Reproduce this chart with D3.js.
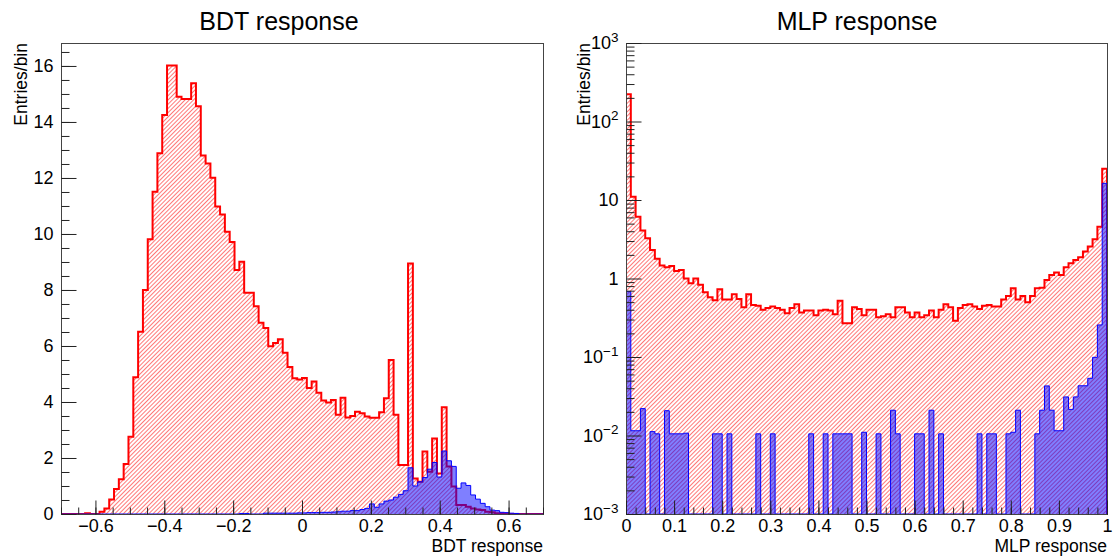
<!DOCTYPE html>
<html>
<head>
<meta charset="utf-8">
<script src="https://cdn.jsdelivr.net/npm/d3@7"></script>
<style>
  html, body { margin: 0; padding: 0; background: #fff; }
  svg { display: block; font-family: "Liberation Sans", Arial, Helvetica, sans-serif; }
</style>
</head>
<body>
<svg id="chart" width="1114" height="556"></svg>
<script>
// ---- BDT response: 100 bins on [-0.7, 0.7] ----
const bdtRange = [-0.7, 0.7];
const bdtBackground = [
  0, 0, 0, 0, 0, 0.03, 0, 0, 0.08, 0.2,
  0.52, 0.89, 1.24, 1.79, 2.76, 4.88, 6.51, 8.0, 9.81, 11.51,
  12.88, 14.25, 16.02, 16.02, 14.9, 14.82, 14.82, 15.38, 14.56, 12.8,
  12.52, 12.01, 10.98, 10.7, 10.08, 9.71, 8.71, 9.01, 7.9, 7.9,
  7.42, 6.83, 6.64, 5.99, 6.11, 6.24, 5.76, 5.25, 4.85, 4.8,
  4.86, 4.5, 4.73, 4.33, 4.05, 3.98, 4.07, 3.54, 4.15, 3.45,
  3.5, 3.65, 3.6, 3.48, 3.44, 3.44, 3.63, 4.13, 5.5, 3.54,
  1.75, 1.75, 8.95, 1.27, 1.15, 2.23, 1.51, 2.7, 1.45, 3.81,
  1.7, 0.98, 0.32, 0.32, 0.26, 0.2, 0.16, 0.14, 0.08, 0.06,
  0.03, 0.02, 0, 0, 0, 0, 0, 0, 0, 0
];
const bdtSignal = [
  0, 0, 0, 0, 0, 0, 0, 0, 0, 0,
  0, 0, 0, 0, 0, 0, 0, 0, 0, 0,
  0, 0, 0, 0, 0, 0, 0, 0, 0, 0,
  0, 0, 0, 0, 0, 0, 0, 0.02, 0.02, 0,
  0, 0, 0.03, 0.03, 0.03, 0.03, 0.03, 0.03, 0.03, 0.04,
  0.04, 0.05, 0.05, 0.05, 0.06, 0.06, 0.07, 0.08, 0.1, 0.1,
  0.12, 0.12, 0.16, 0.2, 0.36, 0.24, 0.36, 0.46, 0.5, 0.6,
  0.7, 0.83, 1.65, 1.0, 1.15, 1.3, 1.6, 1.84, 1.32, 2.25,
  1.9, 1.7, 0.92, 1.11, 1.02, 0.68, 0.53, 0.38, 0.26, 0.14,
  0.12, 0.06, 0.05, 0.03, 0.02, 0, 0, 0, 0, 0
];
const bdtYMax = 16.82;
const bdtYTicks = [0, 2, 4, 6, 8, 10, 12, 14, 16];
const bdtXTicks = [-0.6, -0.4, -0.2, 0, 0.2, 0.4, 0.6];

// ---- MLP response: 100 bins on [0, 1], log scale ----
const mlpRange = [0, 1];
const mlpBackground = [
  222, 11.0, 6.1, 4.1, 3.25, 2.31, 1.78, 1.46, 1.39, 1.44,
  1.25, 1.28, 1.0, 0.87, 1.0, 0.83, 0.67, 0.575, 0.53, 0.73,
  0.54, 0.54, 0.63, 0.55, 0.43, 0.63, 0.46, 0.45, 0.40, 0.42,
  0.44, 0.42, 0.40, 0.36, 0.42, 0.47, 0.37, 0.39, 0.39, 0.34,
  0.39, 0.40, 0.39, 0.35, 0.52, 0.27, 0.27, 0.43, 0.41, 0.34,
  0.40, 0.40, 0.32, 0.33, 0.35, 0.32, 0.43, 0.43, 0.37, 0.32,
  0.37, 0.32, 0.34, 0.39, 0.32, 0.40, 0.47, 0.43, 0.29, 0.42,
  0.46, 0.47, 0.44, 0.41, 0.45, 0.46, 0.44, 0.44, 0.54, 0.6,
  0.75, 0.54, 0.6, 0.5, 0.6, 0.75, 0.76, 0.96, 1.11, 1.19,
  1.11, 1.39, 1.56, 1.72, 1.86, 2.2, 2.55, 3.16, 4.57, 25.0
];
const mlpSignal = [
  0.68, 0.0115, 0.0115, 0.022, 0, 0.0112, 0.0105, 0, 0.0207, 0.0105,
  0.0105, 0.0105, 0.0107, 0, 0, 0, 0, 0, 0.0105, 0.0105,
  0, 0.0105, 0, 0, 0, 0, 0, 0.0105, 0, 0,
  0.0105, 0, 0, 0, 0, 0, 0, 0, 0.0105, 0,
  0, 0.0105, 0, 0.0105, 0.0105, 0.0105, 0.0105, 0, 0, 0.011,
  0, 0, 0.0105, 0, 0, 0.021, 0.0105, 0, 0, 0,
  0.0105, 0.0105, 0, 0.021, 0, 0.0105, 0, 0, 0, 0,
  0, 0, 0, 0.0105, 0, 0.0105, 0.0105, 0, 0, 0.0105,
  0.011, 0.021, 0, 0, 0, 0.0105, 0.021, 0.0428, 0.021, 0.0115,
  0.0115, 0.031, 0.0215, 0.031, 0.043, 0.043, 0.0535, 0.099, 0.256, 16.3
];
const mlpYRange = [1e-3, 1e3];
const mlpYTicks = [1e-3, 1e-2, 1e-1, 1, 10, 100, 1000];
const mlpXTicks = [0, 0.1, 0.2, 0.3, 0.4, 0.5, 0.6, 0.7, 0.8, 0.9, 1];

// ---- layout ----
const frameTop = 43, frameBottom = 514;
const labelFont = 18, titleFont = 25, axisTitleFont = 17.5;
const panels = [
  { id: "bdt", left: 61, right: 543, title: "BDT response", xTitle: "BDT response",
    range: bdtRange, bkg: bdtBackground, sig: bdtSignal, log: false,
    yDomain: [0, bdtYMax], yTicks: bdtYTicks, xTicks: bdtXTicks, xMinorStep: 0.05,
    yMinorStep: 0.5, yLabelX: 27, titleX: 279 },
  { id: "mlp", left: 626, right: 1107, title: "MLP response", xTitle: "MLP response",
    range: mlpRange, bkg: mlpBackground, sig: mlpSignal, log: true,
    yDomain: mlpYRange, yTicks: mlpYTicks, xTicks: mlpXTicks, xMinorStep: 0.02,
    yLabelX: 590, titleX: 857 }
];

const svg = d3.select("#chart");
const defs = svg.append("defs");

// red diagonal hatching for the background histograms
const hatch = defs.append("pattern")
  .attr("id", "hatch")
  .attr("patternUnits", "userSpaceOnUse")
  .attr("width", 3)
  .attr("height", 3)
  .attr("patternTransform", "rotate(45)");
hatch.append("line")
  .attr("x1", 0.5).attr("y1", 0).attr("x2", 0.5).attr("y2", 3)
  .attr("stroke", "#ff6060").attr("stroke-width", 0.85);

const fmtMinus = s => s.replace("-", "\u2212");

function stepPoints(values, x, y, lo, width, yBase) {
  const pts = [[x(lo), yBase]];
  values.forEach((v, i) => {
    const yy = y(v);
    pts.push([x(lo + i * width), yy]);
    pts.push([x(lo + (i + 1) * width), yy]);
  });
  pts.push([x(lo + values.length * width), yBase]);
  return pts;
}

panels.forEach(p => {
  const g = svg.append("g").attr("class", p.id);
  const x = d3.scaleLinear().domain(p.range).range([p.left, p.right]);
  const y = p.log
    ? d3.scaleLog().domain(p.yDomain).range([frameBottom, frameTop]).clamp(true)
    : d3.scaleLinear().domain(p.yDomain).range([frameBottom, frameTop]).clamp(true);
  const yBase = frameBottom;
  const nb = p.bkg.length;
  const bw = (p.range[1] - p.range[0]) / nb;

  defs.append("clipPath").attr("id", "clip-" + p.id)
    .append("rect")
    .attr("x", p.left).attr("y", frameTop - 1)
    .attr("width", p.right - p.left + 1).attr("height", frameBottom - frameTop + 2);

  const plot = g.append("g").attr("clip-path", `url(#clip-${p.id})`);
  const line = d3.line();

  const bkgPts = stepPoints(p.bkg, x, y, p.range[0], bw, yBase);
  const sigPts = stepPoints(p.sig, x, y, p.range[0], bw, yBase);

  plot.append("path").attr("d", line(bkgPts) + "Z")
    .attr("fill", "url(#hatch)").attr("stroke", "none");
  plot.append("path").attr("d", line(bkgPts))
    .attr("fill", "none").attr("stroke", "#ff0000").attr("stroke-width", 2)
    .attr("stroke-linejoin", "miter");
  plot.append("path").attr("d", line(sigPts) + "Z")
    .attr("fill", "#0000ff").attr("fill-opacity", 0.5).attr("stroke", "none");
  plot.append("path").attr("d", line(sigPts))
    .attr("fill", "none").attr("stroke", "#0000ff").attr("stroke-width", 1);

  // frame
  g.append("rect")
    .attr("x", p.left + 0.5).attr("y", frameTop + 0.5)
    .attr("width", p.right - p.left).attr("height", frameBottom - frameTop)
    .attr("fill", "none").attr("stroke", "#444").attr("stroke-width", 1);

  // x axis: major and minor ticks pointing into the frame
  const xMinor = d3.range(
    Math.ceil(p.range[0] / p.xMinorStep - 1e-9),
    Math.floor(p.range[1] / p.xMinorStep + 1e-9) + 1
  ).map(k => +(k * p.xMinorStep).toFixed(4));
  const xMinorAxis = d3.axisBottom(x).tickValues(xMinor).tickSize(-7).tickFormat("");
  const xMajorAxis = d3.axisBottom(x).tickValues(p.xTicks).tickSize(-14).tickPadding(5)
    .tickFormat(d => fmtMinus(d3.format("~g")(d)));
  const gxMinor = g.append("g").attr("transform", `translate(0,${frameBottom + 0.5})`).call(xMinorAxis);
  const gxMajor = g.append("g").attr("transform", `translate(0,${frameBottom + 0.5})`).call(xMajorAxis);
  [gxMinor, gxMajor].forEach(a => {
    a.select(".domain").remove();
    a.selectAll(".tick line").attr("stroke", "#222");
  });
  gxMajor.selectAll(".tick text").attr("font-size", labelFont).attr("fill", "#000")
    .attr("font-family", "Liberation Sans, Arial, sans-serif");

  // y axis
  let yMinor;
  if (p.log) {
    yMinor = [];
    for (let e = -3; e < 3; e++) for (let m = 2; m <= 9; m++) yMinor.push(m * Math.pow(10, e));
  } else {
    yMinor = d3.range(0, Math.floor(p.yDomain[1] / p.yMinorStep) + 1).map(k => k * p.yMinorStep);
  }
  const yMinorAxis = d3.axisLeft(y).tickValues(yMinor).tickSize(-8).tickFormat("");
  const yMajorAxis = d3.axisLeft(y).tickValues(p.yTicks).tickSize(-15).tickPadding(8)
    .tickFormat(d => d3.format("~g")(d));
  const gyMinor = g.append("g").attr("transform", `translate(${p.left + 0.5},0)`).call(yMinorAxis);
  const gyMajor = g.append("g").attr("transform", `translate(${p.left + 0.5},0)`).call(yMajorAxis);
  [gyMinor, gyMajor].forEach(a => {
    a.select(".domain").remove();
    a.selectAll(".tick line").attr("stroke", "#222");
  });
  gyMajor.selectAll(".tick text").attr("font-size", labelFont).attr("fill", "#000")
    .attr("font-family", "Liberation Sans, Arial, sans-serif");

  if (p.log) {
    // powers of ten written with superscript exponents
    gyMajor.selectAll(".tick text").each(function (d) {
      const e = Math.round(Math.log10(d));
      const t = d3.select(this);
      if (e === 0 || e === 1) { t.text(e === 0 ? "1" : "10"); return; }
      t.text("");
      t.append("tspan").text("10");
      t.append("tspan").attr("dy", "-0.55em").attr("font-size", 13.5)
        .text(e < 0 ? "\u2212" + Math.abs(e) : String(e));
    });
  }

  // titles
  g.append("text").attr("x", p.titleX).attr("y", 30).attr("text-anchor", "middle")
    .attr("font-size", titleFont).attr("fill", "#000").text(p.title);
  g.append("text").attr("x", p.right).attr("y", 552).attr("text-anchor", "end")
    .attr("font-size", axisTitleFont).attr("fill", "#000").text(p.xTitle);
  g.append("text")
    .attr("transform", `translate(${p.yLabelX},${frameTop}) rotate(-90)`)
    .attr("text-anchor", "end").attr("font-size", axisTitleFont).attr("fill", "#000")
    .text("Entries/bin");
});
</script>
</body>
</html>
